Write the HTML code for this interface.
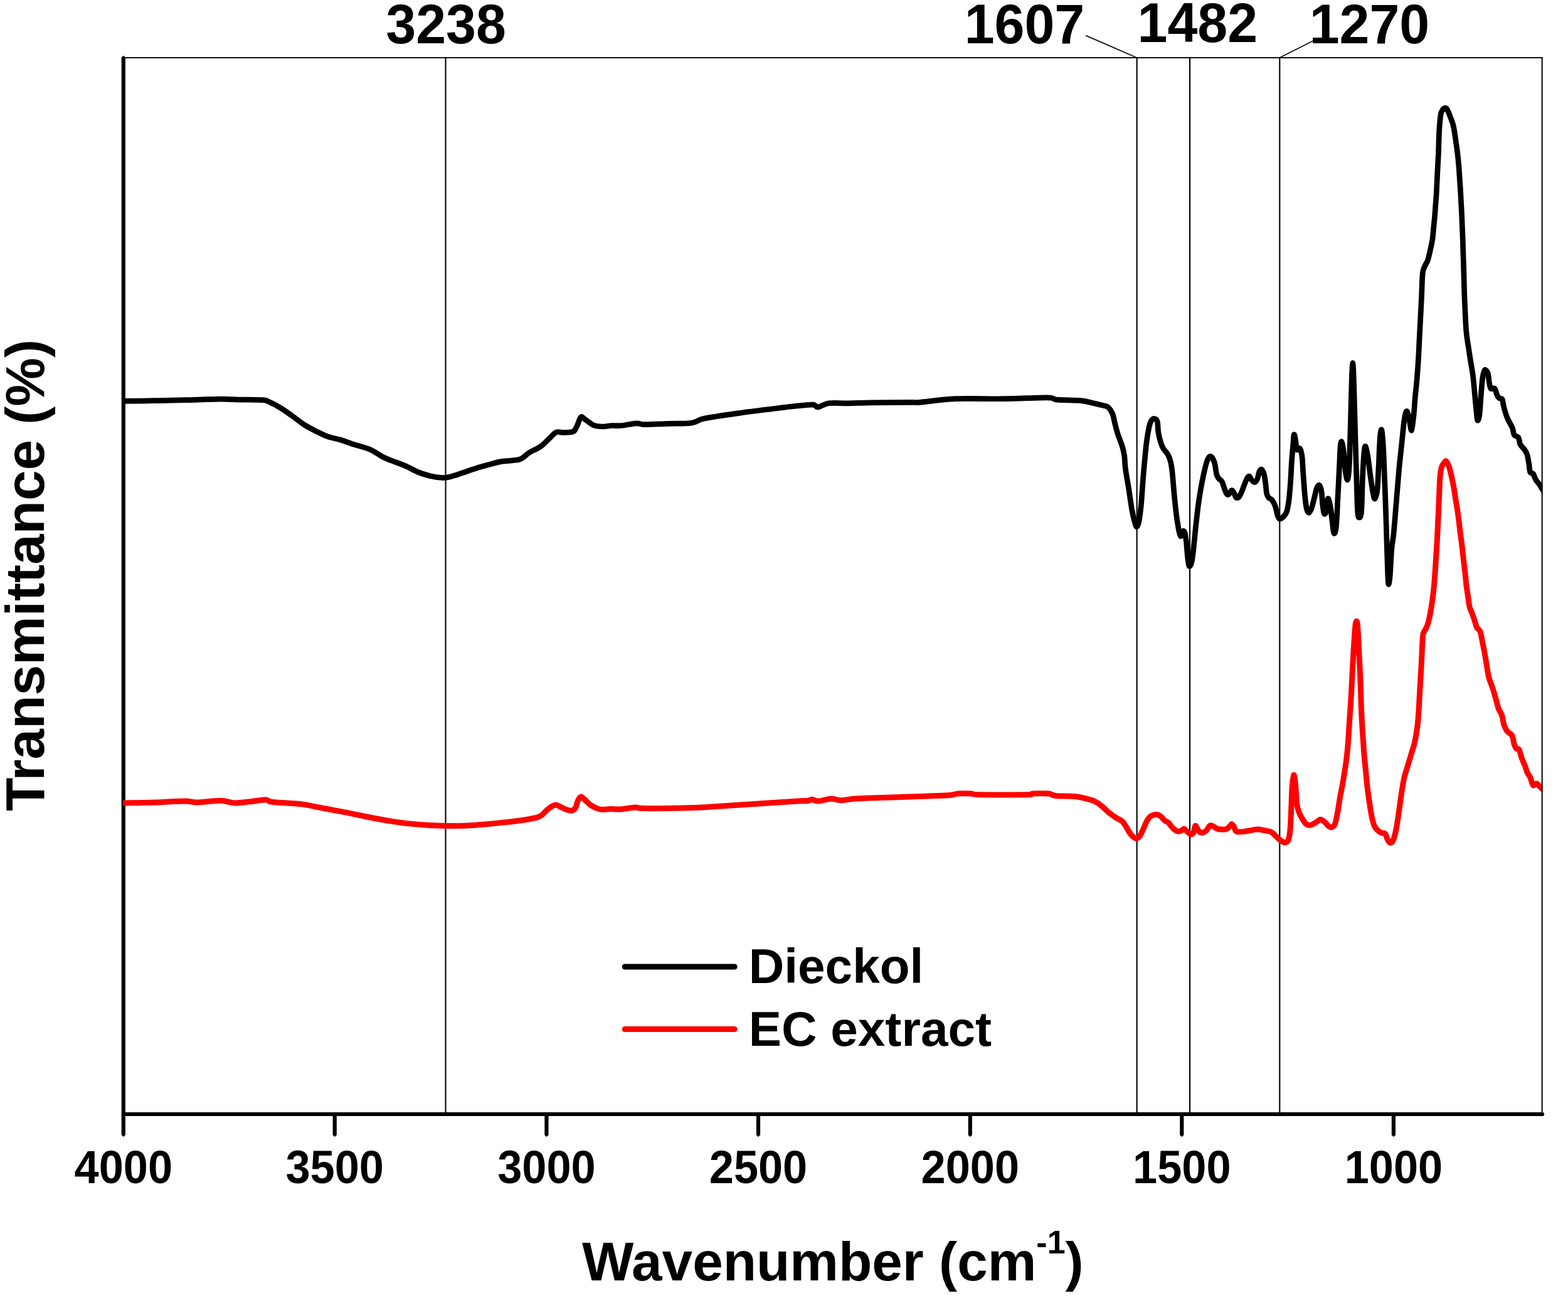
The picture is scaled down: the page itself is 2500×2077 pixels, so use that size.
<!DOCTYPE html>
<html lang="en"><head><meta charset="utf-8"><title>FT-IR spectra: Dieckol and EC extract</title>
<style>html,body{margin:0;padding:0;background:#fff}svg{display:block}text{font-family:"Liberation Sans", sans-serif;font-weight:bold;fill:#000}</style></head><body>
<svg width="2500" height="2077" viewBox="0 0 2500 2077">
<rect width="2500" height="2077" fill="#fff"/>
<line x1="196.8" y1="92" x2="2459.7" y2="92" stroke="#111" stroke-width="2.1"/>
<line x1="710.5" y1="92" x2="710.5" y2="1776" stroke="#000" stroke-width="2.1"/>
<line x1="1812.65" y1="92" x2="1812.65" y2="1776" stroke="#000" stroke-width="2.1"/>
<line x1="1897.05" y1="92" x2="1897.05" y2="1776" stroke="#000" stroke-width="2.1"/>
<line x1="2040.3" y1="92" x2="2040.3" y2="1776" stroke="#000" stroke-width="2.1"/>
<line x1="1731.2" y1="56.6" x2="1812.65" y2="92" stroke="#111" stroke-width="1.8"/>
<line x1="2096.2" y1="63.8" x2="2040.3" y2="92" stroke="#111" stroke-width="1.8"/>
<path d="M193.70 91.60L196.80 88.60L199.90 91.60V1809.20L196.80 1812.20L193.70 1809.20Z" fill="#000"/>
<line x1="196.8" y1="1776" x2="2459" y2="1776" stroke="#000" stroke-width="6.2" stroke-linecap="round"/>
<path d="M530.60 1776.00H536.80V1809.20L533.70 1812.20L530.60 1809.20Z" fill="#000"/>
<path d="M868.30 1776.00H874.50V1809.20L871.40 1812.20L868.30 1809.20Z" fill="#000"/>
<path d="M1205.90 1776.00H1212.10V1809.20L1209.00 1812.20L1205.90 1809.20Z" fill="#000"/>
<path d="M1543.70 1776.00H1549.90V1809.20L1546.80 1812.20L1543.70 1809.20Z" fill="#000"/>
<path d="M1881.20 1776.00H1887.40V1809.20L1884.30 1812.20L1881.20 1809.20Z" fill="#000"/>
<path d="M2218.80 1776.00H2225.00V1809.20L2221.90 1812.20L2218.80 1809.20Z" fill="#000"/>
<clipPath id="plot"><rect x="196.2" y="92" width="2263.3" height="1684"/></clipPath>
<g clip-path="url(#plot)" fill="none" stroke-linejoin="round" stroke-linecap="butt">
<path d="M195.0 639.4C203.3 639.3 231.0 639.0 247.0 638.7C263.0 638.4 278.0 638.1 294.8 637.7C311.6 637.3 338.3 636.3 352.0 636.2C365.7 636.1 369.8 636.9 380.5 637.1C391.2 637.3 410.7 637.1 418.6 637.7C426.5 638.3 425.5 639.0 430.0 641.0C434.5 643.0 441.2 646.5 447.0 650.0C452.8 653.5 459.9 658.7 466.0 663.0C472.1 667.3 478.9 673.1 485.0 677.0C491.1 680.9 498.2 684.5 504.3 687.6C510.4 690.7 517.2 694.1 523.3 696.2C529.4 698.3 536.3 699.2 542.4 701.0C548.5 702.8 553.8 705.1 561.4 707.6C569.0 710.1 582.4 713.2 590.0 716.4C597.6 719.6 603.5 724.7 609.0 727.6C614.5 730.5 618.2 731.9 624.3 734.3C630.4 736.7 640.3 740.0 647.0 742.9C653.7 745.8 659.9 749.9 666.0 752.4C672.1 754.9 678.9 757.0 685.0 758.5C691.1 760.0 699.4 761.2 704.3 761.5C709.2 761.8 711.1 761.4 715.7 760.4C720.3 759.4 725.7 757.6 733.0 755.2C740.3 752.8 753.8 748.1 761.4 745.7C769.0 743.3 774.4 742.0 780.5 740.4C786.6 738.8 791.9 736.9 799.5 735.6C807.1 734.3 821.0 734.6 828.0 732.4C835.0 730.2 837.8 725.3 843.3 721.9C848.8 718.5 857.2 715.1 862.4 711.4C867.6 707.7 871.8 702.6 875.7 699.0C879.6 695.4 883.3 690.5 887.0 689.0C890.7 687.5 894.3 689.7 898.6 689.5C902.9 689.3 910.5 689.5 913.8 688.0C917.1 686.5 917.5 683.7 919.5 680.0C921.5 676.3 924.0 666.6 926.2 664.8C928.4 663.0 929.8 666.5 933.0 668.6C936.2 670.7 941.7 675.9 946.2 677.7C950.7 679.5 956.8 679.9 961.4 680.0C966.0 680.1 970.2 678.7 974.8 678.5C979.4 678.3 983.6 679.1 990.0 678.5C996.4 677.9 1008.7 675.1 1014.8 674.8C1020.9 674.5 1019.8 676.6 1028.0 676.7C1036.2 676.8 1054.3 675.7 1066.2 675.3C1078.1 674.9 1093.3 675.5 1102.4 674.2C1111.5 672.9 1110.8 669.7 1123.3 667.1C1135.8 664.5 1162.2 660.8 1180.5 658.2C1198.8 655.6 1222.4 652.9 1237.6 651.0C1252.8 649.1 1266.2 647.5 1275.7 646.6C1285.2 645.7 1292.1 644.8 1296.7 645.2C1301.3 645.6 1300.3 649.4 1304.3 649.0C1308.3 648.6 1313.8 643.8 1321.4 642.8C1329.0 641.8 1340.9 643.0 1351.9 642.8C1362.9 642.6 1373.5 642.0 1390.0 641.8C1406.5 641.6 1442.6 641.5 1454.8 641.4C1467.0 641.3 1455.2 642.3 1466.2 641.4C1477.2 640.5 1502.0 636.6 1523.3 635.7C1544.6 634.8 1576.0 636.0 1599.5 635.7C1623.0 635.4 1656.3 633.6 1670.0 633.8C1683.7 634.0 1676.7 636.4 1685.2 637.2C1693.7 638.0 1714.1 637.8 1723.3 638.6C1732.5 639.4 1736.5 641.1 1742.4 642.4C1748.3 643.7 1756.1 645.5 1760.0 646.6C1763.9 647.7 1764.7 647.1 1766.9 649.2C1769.1 651.3 1772.0 655.1 1773.8 659.5C1775.6 663.9 1776.6 671.5 1778.0 676.7C1779.4 681.9 1780.5 686.7 1782.3 692.2C1784.1 697.7 1787.5 705.6 1789.2 711.1C1790.9 716.6 1791.9 720.8 1792.7 726.6C1793.5 732.4 1793.3 738.9 1794.4 747.2C1795.5 755.5 1797.9 767.8 1799.5 778.2C1801.1 788.6 1803.2 804.0 1804.7 812.5C1806.2 821.0 1807.8 827.1 1809.0 831.5C1810.2 835.9 1811.3 840.0 1812.4 840.0C1813.5 840.0 1814.8 837.0 1815.9 831.5C1817.0 826.0 1818.3 815.3 1819.3 805.7C1820.3 796.1 1821.1 781.8 1821.9 771.3C1822.7 760.8 1823.5 750.7 1824.5 740.3C1825.5 729.9 1826.7 715.6 1827.9 706.0C1829.1 696.4 1831.0 685.8 1832.2 680.2C1833.4 674.6 1834.4 672.8 1835.6 670.7C1836.8 668.6 1838.4 667.2 1839.9 667.3C1841.4 667.4 1844.0 668.2 1845.1 671.6C1846.2 675.0 1846.0 683.6 1846.8 688.8C1847.6 694.0 1849.1 700.1 1850.3 704.2C1851.5 708.3 1852.7 711.3 1854.6 714.6C1856.5 717.9 1860.4 721.3 1862.3 724.9C1864.2 728.5 1865.5 732.2 1866.6 736.9C1867.7 741.6 1868.4 746.7 1869.2 754.1C1870.0 761.5 1870.9 774.5 1871.7 783.3C1872.5 792.1 1873.5 801.7 1874.3 809.1C1875.1 816.5 1875.9 823.4 1876.9 829.7C1877.9 836.0 1879.3 844.7 1880.3 848.7C1881.3 852.7 1882.1 855.0 1882.9 854.7C1883.7 854.4 1884.5 847.9 1885.5 846.9C1886.5 845.9 1887.9 845.9 1888.9 848.7C1889.9 851.5 1890.8 858.3 1891.5 864.1C1892.2 869.9 1892.5 878.8 1893.2 884.8C1893.9 890.8 1894.8 899.7 1895.8 901.9C1896.8 904.1 1898.3 901.2 1899.3 898.5C1900.3 895.8 1901.0 890.8 1901.8 884.8C1902.6 878.8 1903.6 868.7 1904.4 860.7C1905.2 852.7 1906.0 843.7 1907.0 834.9C1908.0 826.1 1909.2 814.8 1910.4 805.7C1911.6 796.6 1913.2 786.7 1914.7 778.2C1916.2 769.7 1918.3 759.6 1919.9 752.4C1921.5 745.2 1923.4 737.5 1925.0 733.5C1926.6 729.5 1928.4 726.9 1930.2 727.4C1932.0 727.9 1934.7 732.4 1936.2 736.9C1937.7 741.4 1938.6 751.7 1939.7 755.8C1940.8 759.9 1941.7 760.8 1943.1 762.7C1944.5 764.6 1946.8 765.0 1948.3 767.8C1949.8 770.6 1951.4 776.7 1952.6 779.9C1953.8 783.1 1954.9 786.4 1956.0 787.6C1957.1 788.8 1958.2 788.6 1959.4 787.6C1960.6 786.6 1962.5 782.0 1963.7 781.6C1964.9 781.2 1966.1 783.2 1967.2 785.0C1968.3 786.8 1969.4 791.6 1970.6 792.8C1971.8 794.0 1973.5 794.0 1974.9 792.8C1976.3 791.6 1977.8 788.0 1979.2 785.0C1980.6 782.0 1982.0 777.6 1983.5 773.9C1985.0 770.2 1987.3 764.1 1988.7 761.8C1990.1 759.5 1990.9 758.6 1992.1 759.3C1993.3 760.0 1995.0 764.6 1996.4 766.1C1997.8 767.6 1999.3 769.2 2000.7 768.7C2002.1 768.2 2003.9 765.3 2005.0 762.7C2006.1 760.1 2006.6 754.7 2007.6 752.4C2008.6 750.1 2009.8 747.6 2011.0 748.1C2012.2 748.6 2014.2 752.1 2015.3 755.8C2016.4 759.5 2017.2 766.3 2017.9 771.3C2018.6 776.3 2018.8 783.2 2019.6 786.8C2020.4 790.4 2021.6 792.0 2023.0 793.6C2024.4 795.2 2026.5 794.9 2028.2 797.1C2029.9 799.3 2032.0 803.6 2033.4 807.4C2034.8 811.2 2035.7 817.9 2036.8 821.1C2037.9 824.3 2038.7 826.8 2040.2 827.2C2041.7 827.6 2044.4 825.5 2046.2 823.7C2048.0 821.9 2050.0 820.0 2051.4 816.0C2052.8 812.0 2053.8 806.0 2054.8 798.8C2055.8 791.6 2056.6 781.5 2057.4 771.3C2058.2 761.1 2058.8 744.6 2059.5 735.0C2060.2 725.4 2060.9 718.4 2061.5 711.6C2062.1 704.8 2062.5 694.1 2063.2 692.7C2063.9 691.3 2065.1 699.2 2065.8 703.0C2066.5 706.8 2066.4 714.8 2067.5 716.7C2068.6 718.6 2071.3 713.1 2072.7 715.0C2074.1 716.9 2075.3 722.5 2076.1 728.8C2076.9 735.1 2077.1 745.0 2077.8 754.6C2078.5 764.2 2079.6 780.2 2080.4 789.0C2081.2 797.8 2082.0 805.1 2083.0 809.6C2084.0 814.1 2085.2 817.0 2086.4 817.3C2087.6 817.6 2089.3 814.7 2090.7 811.3C2092.1 807.9 2093.6 801.0 2095.0 795.8C2096.4 790.6 2097.9 782.2 2099.3 778.6C2100.7 775.0 2102.4 772.7 2103.6 773.5C2104.8 774.3 2106.2 778.9 2107.0 783.8C2107.8 788.7 2108.1 798.8 2108.8 804.4C2109.5 810.0 2110.3 817.4 2111.3 819.0C2112.3 820.6 2114.0 818.1 2114.8 814.7C2115.6 811.3 2116.0 800.5 2116.5 797.5C2117.0 794.5 2117.4 793.6 2118.2 795.8C2119.0 798.0 2120.7 805.5 2121.7 811.3C2122.7 817.1 2123.4 825.7 2124.2 831.9C2125.0 838.1 2125.8 848.6 2126.8 850.0C2127.8 851.4 2129.3 848.9 2130.3 840.5C2131.3 832.1 2132.0 812.6 2132.8 797.5C2133.6 782.4 2134.7 759.7 2135.4 746.0C2136.1 732.3 2136.5 718.3 2137.1 711.6C2137.7 704.9 2138.4 702.9 2139.2 704.3C2140.0 705.7 2141.4 713.0 2142.3 720.2C2143.2 727.4 2143.9 742.2 2144.9 749.4C2145.9 756.6 2147.3 765.4 2148.3 764.9C2149.3 764.4 2150.3 756.4 2151.0 746.0C2151.7 735.6 2152.1 715.4 2152.6 700.0C2153.1 684.6 2153.6 666.0 2154.0 650.0C2154.4 634.0 2155.0 611.4 2155.4 600.0C2155.8 588.6 2156.4 578.7 2156.8 578.7C2157.2 578.7 2157.8 588.6 2158.2 600.0C2158.6 611.4 2159.2 634.0 2159.6 650.0C2160.0 666.0 2160.5 681.9 2161.0 700.0C2161.5 718.1 2162.3 744.8 2162.9 763.2C2163.5 781.6 2163.9 804.8 2164.6 814.7C2165.3 824.6 2166.2 825.0 2167.2 825.0C2168.2 825.0 2169.9 824.6 2170.7 814.7C2171.5 804.8 2171.7 778.3 2172.4 763.2C2173.1 748.1 2174.2 728.4 2175.0 720.2C2175.8 712.0 2176.3 710.4 2177.3 711.8C2178.3 713.2 2179.9 722.0 2181.0 728.8C2182.1 735.6 2183.2 745.8 2184.4 754.6C2185.6 763.4 2187.5 777.3 2188.7 783.8C2189.9 790.3 2190.9 795.6 2192.1 795.0C2193.3 794.4 2195.1 788.1 2196.0 780.3C2196.9 772.5 2197.4 757.0 2198.0 746.0C2198.6 735.0 2199.0 720.4 2199.5 711.6C2200.0 702.8 2200.4 695.1 2201.0 691.0C2201.6 686.9 2202.3 682.7 2203.0 686.0C2203.7 689.3 2204.8 702.0 2205.4 711.6C2206.0 721.2 2206.3 732.3 2206.9 746.0C2207.5 759.7 2208.2 778.3 2208.9 797.5C2209.6 816.7 2210.5 847.0 2211.1 866.3C2211.7 885.6 2212.3 907.5 2212.8 917.9C2213.3 928.3 2213.5 931.6 2214.0 931.6C2214.5 931.6 2215.4 927.0 2216.2 917.9C2217.0 908.8 2217.8 885.9 2218.8 874.9C2219.8 863.9 2221.0 861.5 2222.2 849.1C2223.4 836.7 2225.1 814.0 2226.5 797.5C2227.9 781.0 2229.4 760.9 2230.8 746.0C2232.2 731.1 2234.0 716.0 2235.2 704.4C2236.4 692.8 2237.5 680.8 2238.4 673.5C2239.3 666.2 2240.2 661.8 2241.0 659.0C2241.8 656.2 2242.7 654.3 2243.6 655.8C2244.5 657.3 2245.8 663.4 2246.9 668.2C2248.0 673.0 2249.4 687.3 2250.6 686.0C2251.8 684.7 2253.3 668.6 2254.2 660.0C2255.1 651.4 2255.6 640.6 2256.4 632.0C2257.2 623.4 2258.2 615.9 2259.0 606.3C2259.8 596.7 2260.8 582.9 2261.5 571.9C2262.2 560.9 2262.6 548.5 2263.2 537.5C2263.8 526.5 2264.4 514.2 2265.0 503.2C2265.6 492.2 2266.2 479.8 2266.7 468.8C2267.2 457.8 2267.4 441.8 2268.4 434.4C2269.4 427.0 2271.4 425.4 2272.7 422.3C2274.0 419.2 2275.0 419.0 2276.3 415.1C2277.6 411.2 2279.4 403.4 2280.6 397.9C2281.8 392.4 2283.2 386.2 2284.0 380.7C2284.8 375.2 2285.2 369.0 2285.7 363.5C2286.2 358.0 2286.9 351.8 2287.4 346.3C2287.9 340.8 2288.3 334.6 2288.7 329.1C2289.1 323.6 2289.6 317.4 2290.0 311.9C2290.4 306.4 2290.6 300.2 2290.9 294.7C2291.2 289.2 2291.4 283.0 2291.7 277.5C2292.0 272.0 2292.3 265.8 2292.6 260.3C2292.9 254.8 2293.3 248.7 2293.5 243.2C2293.7 237.7 2293.8 231.5 2294.0 226.0C2294.2 220.5 2294.4 214.3 2294.7 208.8C2295.0 203.3 2295.5 196.3 2296.0 191.6C2296.5 186.9 2296.9 182.4 2297.8 179.5C2298.7 176.6 2300.2 174.4 2301.5 173.3C2302.8 172.2 2304.6 171.8 2305.8 172.5C2307.0 173.2 2307.8 175.6 2308.9 177.8C2310.0 180.0 2311.2 183.1 2312.4 186.4C2313.6 189.7 2315.6 194.4 2316.7 198.5C2317.8 202.6 2318.5 207.3 2319.3 212.2C2320.1 217.1 2321.0 223.9 2321.8 229.4C2322.6 234.9 2323.5 241.1 2324.1 246.6C2324.7 252.1 2325.3 258.3 2325.8 263.8C2326.3 269.3 2326.6 275.5 2327.0 281.0C2327.4 286.5 2327.8 292.7 2328.2 298.2C2328.6 303.7 2328.9 309.9 2329.2 315.4C2329.5 320.9 2329.8 327.0 2330.1 332.5C2330.4 338.0 2330.7 344.2 2330.9 349.7C2331.1 355.2 2331.4 361.4 2331.6 366.9C2331.8 372.4 2332.1 378.6 2332.3 384.1C2332.5 389.6 2332.6 395.8 2332.8 401.3C2333.0 406.8 2333.2 412.3 2333.4 418.5C2333.6 424.7 2333.8 432.0 2334.0 440.0C2334.2 448.0 2334.4 458.7 2334.8 468.8C2335.2 478.9 2335.8 493.3 2336.3 503.2C2336.8 513.1 2337.2 522.5 2338.0 530.7C2338.8 538.9 2340.4 547.3 2341.5 554.7C2342.6 562.1 2343.8 570.2 2344.9 577.1C2346.0 584.0 2347.3 590.3 2348.3 597.7C2349.3 605.1 2350.1 614.8 2350.9 623.5C2351.7 632.2 2352.8 644.6 2353.6 652.0C2354.4 659.4 2354.9 668.6 2355.7 670.0C2356.5 671.4 2358.0 667.6 2358.9 661.0C2359.8 654.4 2360.6 638.4 2361.4 628.8C2362.2 619.2 2363.0 607.5 2364.0 601.3C2365.0 595.1 2366.1 590.8 2367.4 589.8C2368.7 588.8 2371.2 591.9 2372.3 595.0C2373.4 598.1 2373.5 605.1 2374.3 609.0C2375.1 612.9 2375.6 617.9 2377.0 619.5C2378.4 621.1 2381.5 617.6 2383.0 619.1C2384.5 620.6 2385.4 626.2 2386.5 628.7C2387.6 631.2 2388.6 633.3 2390.0 634.5C2391.4 635.7 2393.8 634.2 2395.0 636.4C2396.2 638.6 2396.4 644.0 2397.6 648.5C2398.8 653.0 2400.9 660.2 2402.5 664.5C2404.1 668.8 2406.5 672.6 2407.9 675.5C2409.3 678.4 2410.5 679.5 2411.5 682.4C2412.5 685.3 2412.8 691.0 2414.3 693.4C2415.8 695.8 2419.6 695.1 2421.1 697.5C2422.6 699.9 2422.3 705.4 2423.9 708.5C2425.5 711.6 2429.0 714.2 2430.8 716.8C2432.6 719.4 2433.8 721.5 2434.9 725.0C2436.0 728.5 2436.9 734.4 2437.7 738.8C2438.5 743.2 2438.6 750.0 2439.7 752.6C2440.8 755.2 2443.1 753.3 2444.5 755.3C2445.9 757.3 2447.1 762.3 2448.7 764.9C2450.3 767.5 2452.6 769.5 2454.2 771.8C2455.8 774.1 2456.6 776.0 2458.5 779.0C2460.4 782.0 2464.8 788.7 2466.0 790.5" stroke="#000" stroke-width="8.7"/>
<path d="M195.0 1280.0C203.3 1279.8 231.1 1279.5 247.1 1279.0C263.1 1278.5 284.1 1277.1 294.8 1277.1C305.5 1277.1 304.7 1279.1 313.8 1279.0C322.9 1278.9 342.1 1276.0 351.9 1276.2C361.7 1276.4 367.2 1279.8 374.8 1280.0C382.4 1280.2 391.7 1278.5 399.5 1277.7C407.3 1276.9 418.1 1274.6 423.3 1274.7C428.5 1274.8 426.6 1277.3 431.9 1278.1C437.2 1278.9 448.8 1279.4 456.7 1280.0C464.6 1280.6 472.3 1280.6 481.4 1281.9C490.5 1283.2 502.5 1285.9 513.8 1288.0C525.1 1290.1 539.7 1292.8 551.9 1295.2C564.1 1297.6 579.3 1300.9 590.0 1303.0C600.7 1305.1 609.5 1306.7 618.6 1308.2C627.7 1309.7 636.4 1311.2 647.1 1312.4C657.8 1313.6 673.0 1314.9 685.2 1315.6C697.4 1316.3 711.1 1316.7 723.3 1316.6C735.5 1316.5 749.2 1315.7 761.4 1314.9C773.6 1314.1 787.3 1312.7 799.5 1311.4C811.7 1310.1 828.4 1308.1 837.6 1306.7C846.8 1305.3 852.4 1304.1 856.7 1302.9C861.0 1301.7 861.9 1300.8 864.3 1299.0C866.7 1297.2 869.5 1293.5 871.9 1291.4C874.3 1289.3 877.2 1287.1 879.5 1285.7C881.8 1284.3 883.8 1282.7 886.2 1282.9C888.6 1283.1 891.9 1285.4 894.8 1286.7C897.7 1288.0 901.6 1290.2 904.3 1291.0C907.0 1291.8 909.8 1292.5 911.9 1292.0C914.0 1291.5 916.1 1290.1 917.6 1287.6C919.1 1285.1 920.0 1279.0 921.4 1276.2C922.8 1273.4 924.4 1270.3 926.2 1270.1C928.0 1269.9 930.3 1273.0 932.9 1275.2C935.5 1277.4 939.4 1281.7 942.4 1283.8C945.4 1285.9 948.9 1287.5 951.9 1288.6C954.9 1289.7 958.0 1290.4 961.4 1290.5C964.8 1290.6 968.3 1289.6 972.9 1289.5C977.5 1289.4 983.6 1290.3 990.0 1289.9C996.4 1289.5 1006.8 1287.2 1012.9 1287.0C1019.0 1286.8 1013.5 1288.5 1028.1 1288.6C1042.7 1288.7 1079.9 1288.5 1104.3 1287.6C1128.7 1286.7 1153.1 1284.6 1180.5 1282.9C1207.9 1281.2 1258.6 1277.8 1275.7 1276.8C1292.8 1275.8 1284.0 1277.2 1287.1 1276.8C1290.2 1276.4 1292.0 1274.3 1294.8 1274.3C1297.6 1274.3 1299.4 1277.3 1304.3 1277.1C1309.2 1276.9 1319.4 1273.5 1325.2 1273.3C1331.0 1273.1 1334.7 1275.8 1340.5 1275.8C1346.3 1275.8 1353.5 1273.9 1361.4 1273.3C1369.3 1272.7 1373.2 1272.5 1390.0 1271.9C1406.8 1271.3 1446.4 1270.2 1466.2 1269.5C1486.0 1268.8 1504.1 1268.3 1513.8 1267.6C1523.5 1266.9 1521.6 1265.5 1527.1 1265.1C1532.6 1264.7 1542.6 1264.8 1548.1 1265.1C1553.6 1265.4 1547.1 1266.4 1561.4 1266.7C1575.7 1267.0 1623.9 1267.0 1637.6 1266.7C1651.3 1266.4 1641.6 1265.4 1647.1 1265.1C1652.6 1264.8 1666.1 1264.5 1671.9 1265.1C1677.7 1265.7 1676.6 1267.9 1683.3 1268.6C1690.0 1269.3 1705.9 1268.7 1713.8 1269.5C1721.7 1270.3 1727.7 1272.0 1732.9 1273.3C1738.1 1274.6 1742.2 1275.7 1746.2 1277.7C1750.2 1279.7 1754.3 1283.0 1757.6 1285.7C1760.9 1288.4 1763.7 1291.7 1767.1 1294.5C1770.5 1297.3 1775.2 1300.6 1778.6 1302.9C1782.0 1305.2 1786.1 1306.6 1788.6 1308.6C1791.1 1310.6 1792.5 1313.0 1794.3 1315.7C1796.1 1318.4 1798.2 1322.9 1800.0 1325.7C1801.8 1328.5 1803.9 1331.2 1805.7 1332.9C1807.5 1334.6 1809.6 1336.4 1811.4 1336.4C1813.2 1336.4 1815.3 1335.3 1817.1 1332.9C1818.9 1330.5 1821.1 1325.3 1822.9 1321.4C1824.7 1317.5 1826.8 1311.8 1828.6 1308.6C1830.4 1305.4 1832.0 1303.0 1834.3 1301.4C1836.6 1299.8 1840.4 1298.4 1842.9 1298.3C1845.4 1298.2 1847.7 1299.2 1850.0 1300.7C1852.3 1302.2 1855.0 1306.2 1857.1 1307.9C1859.2 1309.6 1860.8 1309.5 1862.9 1311.4C1865.0 1313.3 1867.7 1317.8 1870.0 1320.0C1872.3 1322.2 1875.0 1324.3 1877.1 1325.0C1879.2 1325.7 1881.2 1324.9 1882.9 1324.3C1884.6 1323.7 1886.3 1320.9 1887.9 1321.1C1889.5 1321.3 1891.2 1324.3 1892.9 1325.7C1894.6 1327.1 1897.0 1329.8 1898.6 1330.0C1900.2 1330.2 1901.8 1329.3 1902.9 1327.1C1904.0 1324.9 1904.7 1317.3 1905.7 1316.4C1906.7 1315.5 1908.1 1319.8 1909.3 1321.4C1910.5 1323.0 1911.4 1325.5 1912.9 1326.4C1914.4 1327.3 1916.8 1327.7 1918.6 1327.1C1920.4 1326.5 1922.7 1324.6 1924.3 1322.9C1925.9 1321.2 1927.2 1317.4 1928.6 1316.4C1930.0 1315.4 1931.1 1315.7 1932.9 1316.4C1934.7 1317.1 1937.7 1319.8 1940.0 1320.7C1942.3 1321.6 1944.6 1322.0 1947.1 1322.1C1949.6 1322.2 1953.5 1322.2 1955.7 1321.4C1957.9 1320.6 1959.4 1318.3 1960.7 1317.1C1962.0 1315.9 1962.8 1313.4 1964.0 1313.6C1965.2 1313.8 1966.9 1316.9 1967.9 1318.6C1968.9 1320.3 1969.0 1323.1 1970.0 1324.3C1971.0 1325.5 1972.0 1325.8 1974.3 1326.0C1976.6 1326.2 1981.1 1325.8 1984.3 1325.4C1987.5 1325.0 1990.9 1324.1 1994.3 1323.6C1997.7 1323.1 2002.3 1322.1 2005.7 1322.1C2009.1 1322.1 2012.3 1322.9 2015.7 1323.6C2019.1 1324.3 2024.1 1324.9 2027.1 1326.4C2030.1 1327.9 2032.0 1330.8 2034.3 1332.9C2036.6 1335.0 2039.1 1337.7 2041.4 1339.3C2043.7 1340.9 2046.5 1343.2 2048.6 1343.1C2050.7 1343.0 2052.9 1342.1 2054.3 1338.6C2055.7 1335.1 2056.4 1328.7 2057.1 1321.4C2057.8 1314.1 2058.1 1303.2 2058.6 1292.9C2059.1 1282.6 2059.4 1265.8 2060.0 1257.1C2060.6 1248.4 2061.5 1241.9 2062.1 1238.6C2062.7 1235.3 2062.9 1233.9 2063.5 1236.5C2064.1 1239.1 2065.2 1247.7 2065.8 1254.7C2066.4 1261.7 2066.7 1274.2 2067.5 1280.5C2068.3 1286.8 2069.5 1290.4 2070.9 1294.3C2072.3 1298.2 2074.2 1301.4 2076.1 1304.6C2078.0 1307.8 2080.8 1312.3 2083.0 1314.0C2085.2 1315.7 2087.4 1315.7 2089.9 1315.2C2092.4 1314.7 2096.0 1312.0 2098.5 1310.6C2101.0 1309.2 2103.1 1306.3 2105.3 1306.3C2107.5 1306.3 2110.0 1308.8 2112.2 1310.6C2114.4 1312.4 2117.2 1316.3 2119.1 1317.5C2121.0 1318.7 2122.7 1319.0 2124.2 1318.3C2125.7 1317.6 2127.1 1317.0 2128.5 1313.2C2129.9 1309.4 2131.6 1300.9 2132.8 1294.3C2134.0 1287.7 2135.2 1278.2 2136.3 1271.9C2137.4 1265.6 2138.6 1260.7 2139.7 1254.7C2140.8 1248.7 2142.1 1241.0 2143.2 1234.1C2144.3 1227.2 2145.6 1219.4 2146.6 1211.7C2147.6 1204.0 2148.5 1194.2 2149.2 1186.0C2149.9 1177.8 2150.4 1168.5 2150.9 1160.2C2151.4 1151.9 2152.1 1141.3 2152.6 1134.4C2153.1 1127.5 2153.4 1122.7 2153.8 1117.2C2154.2 1111.7 2154.4 1108.6 2154.8 1100.0C2155.2 1091.4 2155.8 1077.3 2156.6 1063.2C2157.4 1049.1 2158.9 1022.7 2159.7 1011.6C2160.5 1000.5 2160.9 997.5 2161.4 994.0C2161.9 990.5 2162.4 989.9 2162.8 989.9C2163.2 989.9 2163.8 990.5 2164.2 994.0C2164.6 997.5 2164.8 1000.5 2165.4 1011.6C2166.0 1022.7 2167.3 1049.1 2168.0 1063.2C2168.7 1077.3 2169.1 1090.0 2169.5 1100.0C2169.9 1110.0 2170.0 1117.5 2170.3 1125.8C2170.6 1134.1 2171.0 1143.3 2171.5 1151.6C2172.0 1159.9 2172.6 1169.1 2173.2 1177.4C2173.8 1185.7 2174.3 1195.0 2175.0 1203.2C2175.7 1211.4 2176.7 1220.7 2177.5 1228.9C2178.3 1237.1 2179.1 1246.4 2180.1 1254.7C2181.1 1263.0 2182.5 1273.1 2183.6 1280.5C2184.7 1287.9 2185.8 1295.3 2187.0 1301.1C2188.2 1306.9 2189.8 1313.0 2191.3 1316.6C2192.8 1320.2 2194.5 1321.7 2196.4 1323.5C2198.3 1325.3 2201.4 1327.0 2203.3 1327.8C2205.2 1328.6 2207.1 1327.2 2208.5 1328.7C2209.9 1330.2 2210.7 1334.9 2211.9 1337.2C2213.1 1339.5 2214.7 1343.0 2216.2 1343.3C2217.7 1343.6 2219.9 1342.2 2221.4 1339.0C2222.9 1335.8 2224.5 1329.3 2225.7 1323.5C2226.9 1317.7 2228.0 1310.1 2229.1 1302.9C2230.2 1295.7 2231.4 1286.5 2232.5 1278.8C2233.6 1271.1 2234.9 1261.3 2236.0 1254.7C2237.1 1248.1 2238.0 1243.0 2239.4 1237.5C2240.8 1232.0 2243.0 1225.8 2244.6 1220.3C2246.2 1214.8 2248.1 1208.7 2249.7 1203.2C2251.3 1197.7 2253.5 1191.5 2254.9 1186.0C2256.3 1180.5 2257.3 1174.9 2258.3 1168.8C2259.3 1162.7 2260.3 1154.6 2260.9 1148.1C2261.5 1141.6 2261.8 1135.7 2262.3 1128.0C2262.8 1120.3 2263.2 1110.4 2263.8 1100.0C2264.4 1089.6 2265.5 1072.4 2266.0 1063.2C2266.5 1054.0 2266.7 1049.1 2267.0 1042.5C2267.3 1035.9 2267.6 1027.1 2268.0 1021.9C2268.4 1016.7 2268.4 1013.1 2269.3 1009.8C2270.2 1006.5 2272.4 1004.2 2273.7 1001.3C2275.0 998.4 2276.1 996.8 2277.4 991.5C2278.7 986.2 2280.8 975.8 2282.1 967.9C2283.4 960.0 2284.7 950.4 2285.6 942.1C2286.5 933.8 2287.2 924.6 2287.8 916.3C2288.4 908.0 2289.0 898.8 2289.5 890.5C2290.0 882.2 2290.6 873.0 2291.1 864.7C2291.6 856.4 2292.0 847.1 2292.4 838.9C2292.8 830.7 2293.2 821.4 2293.6 813.2C2294.0 805.0 2294.3 795.7 2294.7 787.4C2295.1 779.1 2295.3 768.5 2295.9 761.6C2296.5 754.7 2297.4 748.3 2298.5 744.4C2299.6 740.5 2301.6 739.0 2302.8 737.5C2304.0 736.0 2304.5 734.2 2305.7 735.3C2306.9 736.4 2309.0 740.2 2310.5 744.4C2312.0 748.6 2313.6 756.1 2314.8 761.6C2316.0 767.1 2317.2 773.3 2318.2 778.8C2319.2 784.3 2319.9 790.5 2320.8 796.0C2321.7 801.5 2322.9 807.7 2323.7 813.2C2324.5 818.7 2325.3 824.8 2326.0 830.3C2326.7 835.8 2327.3 842.0 2328.0 847.5C2328.7 853.0 2329.6 859.2 2330.3 864.7C2331.0 870.2 2331.7 876.4 2332.3 881.9C2332.9 887.4 2333.6 893.6 2334.2 899.1C2334.8 904.6 2335.7 910.8 2336.3 916.3C2336.9 921.8 2337.3 928.0 2338.0 933.5C2338.7 939.0 2339.8 945.2 2340.6 950.7C2341.4 956.2 2342.1 963.5 2343.2 967.9C2344.3 972.3 2346.2 974.9 2347.4 978.2C2348.6 981.5 2349.7 985.0 2350.9 988.5C2352.1 992.0 2353.1 997.0 2354.6 1000.0C2356.1 1003.0 2358.7 1003.3 2360.1 1007.0C2361.5 1010.7 2362.4 1017.7 2363.5 1023.0C2364.6 1028.3 2365.9 1034.2 2367.0 1040.2C2368.1 1046.2 2369.3 1054.5 2370.4 1060.8C2371.5 1067.1 2372.3 1073.9 2373.8 1079.7C2375.3 1085.5 2378.1 1091.4 2379.9 1096.9C2381.7 1102.4 2383.5 1108.9 2385.0 1114.1C2386.5 1119.3 2387.8 1125.5 2389.3 1129.6C2390.8 1133.7 2393.1 1135.8 2394.5 1139.9C2395.9 1144.0 2396.5 1151.3 2397.9 1155.4C2399.3 1159.5 2401.0 1163.0 2403.1 1165.7C2405.2 1168.4 2409.0 1169.2 2410.8 1172.5C2412.6 1175.8 2413.1 1183.0 2414.2 1186.3C2415.3 1189.6 2416.5 1191.8 2417.7 1193.2C2418.9 1194.6 2420.6 1192.4 2422.0 1194.9C2423.4 1197.4 2424.8 1204.6 2426.3 1208.7C2427.8 1212.8 2430.0 1217.1 2431.4 1220.7C2432.8 1224.3 2433.5 1228.0 2434.9 1231.0C2436.3 1234.0 2438.5 1236.3 2440.0 1239.6C2441.5 1242.9 2442.7 1250.1 2444.3 1251.6C2445.9 1253.1 2448.7 1248.8 2450.3 1249.1C2451.9 1249.4 2453.3 1252.2 2454.6 1253.4C2455.9 1254.6 2456.5 1255.3 2458.3 1256.8C2460.1 1258.3 2464.8 1262.0 2466.0 1263.0" stroke="#f00" stroke-width="9"/>
</g>
<line x1="2458.7" y1="91" x2="2458.7" y2="1776" stroke="#161616" stroke-width="2.2"/>
<text transform="translate(196.8 1885.9) scale(1 1.062)" font-size="70.3" text-anchor="middle">4000</text>
<text transform="translate(533.7 1885.9) scale(1 1.062)" font-size="70.3" text-anchor="middle">3500</text>
<text transform="translate(871.4 1885.9) scale(1 1.062)" font-size="70.3" text-anchor="middle">3000</text>
<text transform="translate(1209.0 1885.9) scale(1 1.062)" font-size="70.3" text-anchor="middle">2500</text>
<text transform="translate(1546.8 1885.9) scale(1 1.062)" font-size="70.3" text-anchor="middle">2000</text>
<text transform="translate(1884.3 1885.9) scale(1 1.062)" font-size="70.3" text-anchor="middle">1500</text>
<text transform="translate(2221.9 1885.9) scale(1 1.062)" font-size="70.3" text-anchor="middle">1000</text>
<text transform="translate(615.3 69.0) scale(1 1.04)" font-size="86.1">3238</text>
<text transform="translate(1537.7 69.0) scale(1 1.04)" font-size="86.1">1607</text>
<text transform="translate(1813.5 67.1) scale(1 1.04)" font-size="86.1">1482</text>
<text transform="translate(2087.7 69.0) scale(1 1.04)" font-size="86.1">1270</text>
<line x1="996.2" y1="1541" x2="1171.2" y2="1541" stroke="#000" stroke-width="9" stroke-linecap="round"/>
<line x1="996.2" y1="1640.5" x2="1171.2" y2="1640.5" stroke="#f00" stroke-width="9" stroke-linecap="round"/>
<text transform="translate(1193.75 1567) scale(1 1)" font-size="78.3">Dieckol</text>
<text transform="translate(1193.75 1667) scale(1 1)" font-size="78.3">EC extract</text>
<text transform="translate(927.9 2040.6) scale(1 1)" font-size="87.3">Wavenumber (cm<tspan font-size="52" dy="-42.4">-1</tspan><tspan dy="42.4">)</tspan></text>
<text transform="translate(69.8 1292.9) rotate(-90) scale(1 1)" font-size="87.3">Transmittance (%)</text>
</svg></body></html>
